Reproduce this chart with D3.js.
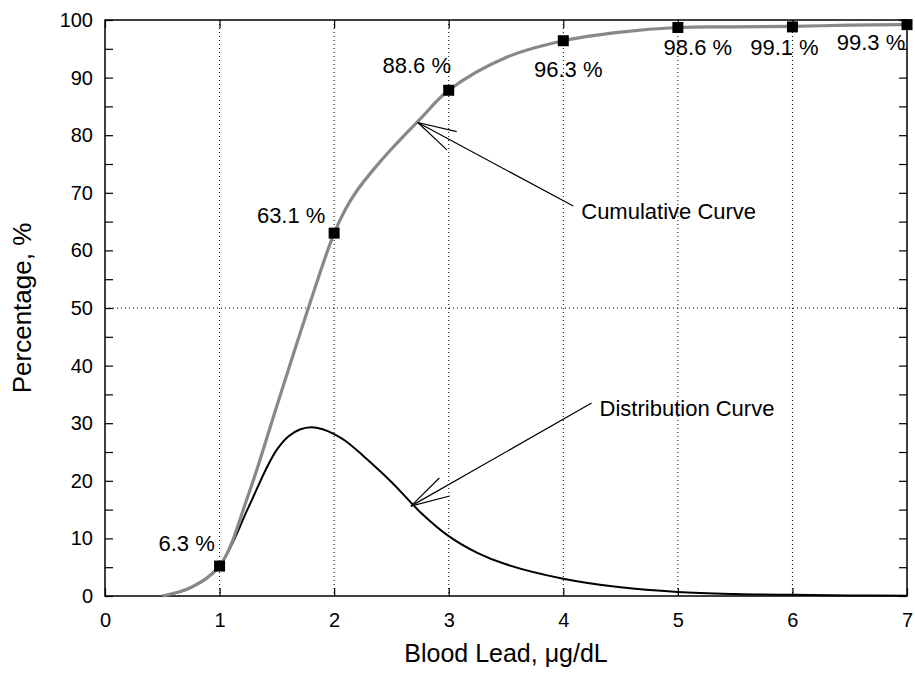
<!DOCTYPE html>
<html>
<head>
<meta charset="utf-8">
<script src="https://cdn.jsdelivr.net/npm/d3@7"></script>
<style>
  body { margin: 0; background: #fff; }
  svg text { font-family: "Liberation Sans", Arial, sans-serif; fill: #000; }
</style>
</head>
<body>
<svg id="drawing_region"></svg>
<script>
// cumulative curve
const cumX = [0.5, 0.75, 1, 1.25, 1.5, 1.75, 2, 2.1, 2.2, 2.35, 2.5, 2.75, 3, 3.5, 4, 4.5, 5, 5.5, 6, 6.5, 7];
const cumY = [0, 1.5, 5.2, 17.5, 33, 48.5, 63, 67.2, 70.4, 74.2, 77.6, 82.8, 87.8, 93.5, 96.4, 97.9, 98.7, 98.8, 98.9, 99.1, 99.2];
// distribution curve
const distX = [0.5, 0.75, 1, 1.25, 1.4, 1.5, 1.6, 1.7, 1.8, 1.9, 2, 2.1, 2.25, 2.5, 2.75, 3, 3.25, 3.5, 4, 4.5, 5, 5.5, 6, 6.5, 7];
const distY = [0, 1.4, 5.3, 15.3, 21.8, 25.4, 27.7, 28.9, 29.3, 28.95, 28.1, 26.9, 24.4, 19.8, 14.6, 10.4, 7.5, 5.5, 3, 1.5, 0.7, 0.35, 0.2, 0.1, 0.05];
// square markers on the cumulative curve
const markerX = [1, 2, 3, 4, 5, 6, 7];
const markerY = [5.2, 63, 87.8, 96.4, 98.7, 98.8, 99.2];
const markerText = ["6.3 %", "63.1 %", "88.6 %", "96.3 %", "98.6 %", "99.1 %", "99.3 %"];
// tick values
const xTicks = [0, 1, 2, 3, 4, 5, 6, 7];
const yTicks = [0, 5, 10, 15, 20, 25, 30, 35, 40, 45, 50, 55, 60, 65, 70, 75, 80, 85, 90, 95, 100];

const config = {
    width: 915,
    height: 673,
    margin: {top: 20, right: 8, bottom: 77, left: 105}
};

const svg = d3.select('#drawing_region')
    .attr('width', config.width)
    .attr('height', config.height);

const inner_width = config.width - config.margin.left - config.margin.right;
const inner_height = config.height - config.margin.top - config.margin.bottom;

const chart = svg.append('g')
    .attr('transform', `translate(${config.margin.left}, ${config.margin.top})`);

const xscale = d3.scaleLinear().domain([0, 7]).range([0, inner_width]);
const yscale = d3.scaleLinear().domain([0, 100]).range([inner_height, 0]);

// grid (dotted)
chart.append('g').selectAll('line.vgrid')
    .data([1, 2, 3, 4, 5, 6])
    .join('line')
    .attr('x1', d => xscale(d)).attr('x2', d => xscale(d))
    .attr('y1', 0).attr('y2', inner_height)
    .attr('stroke', '#000').attr('stroke-width', 1)
    .attr('stroke-dasharray', '1,3');
chart.append('line')
    .attr('x1', 0).attr('x2', inner_width)
    .attr('y1', yscale(50)).attr('y2', yscale(50))
    .attr('stroke', '#000').attr('stroke-width', 1)
    .attr('stroke-dasharray', '1,3');

// axes, ticks pointing inward
const tickLen = 8;
const styleAxis = g => {
    g.select('.domain').remove();
    g.selectAll('.tick line').attr('stroke', '#000').attr('stroke-width', 1.2);
    g.selectAll('.tick text').attr('font-size', 20).attr('fill', '#000')
        .style('font-family', '"Liberation Sans", Arial, sans-serif');
};

chart.append('g')
    .attr('transform', `translate(0, ${inner_height})`)
    .call(d3.axisBottom(xscale).tickValues(xTicks).tickSize(-tickLen).tickPadding(17)
        .tickFormat(d3.format('d')))
    .call(styleAxis);
chart.append('g')
    .call(d3.axisTop(xscale).tickValues(xTicks).tickSize(-tickLen).tickFormat(''))
    .call(styleAxis);
chart.append('g')
    .call(d3.axisLeft(yscale).tickValues(yTicks).tickSize(-tickLen).tickPadding(12)
        .tickFormat(d => d % 10 === 0 ? d : ''))
    .call(styleAxis);
chart.append('g')
    .attr('transform', `translate(${inner_width}, 0)`)
    .call(d3.axisRight(yscale).tickValues(yTicks).tickSize(-tickLen).tickFormat(''))
    .call(styleAxis);

// border
chart.append('rect')
    .attr('x', 0).attr('y', 0)
    .attr('width', inner_width).attr('height', inner_height)
    .attr('fill', 'none').attr('stroke', '#000').attr('stroke-width', 1.5);

// curves
const line = d3.line()
    .x(d => xscale(d[0]))
    .y(d => yscale(d[1]))
    .curve(d3.curveCatmullRom.alpha(0.5));

chart.append('path')
    .datum(distX.map((x, i) => [x, distY[i]]))
    .attr('d', line)
    .attr('fill', 'none').attr('stroke', '#000').attr('stroke-width', 2);

chart.append('path')
    .datum(cumX.map((x, i) => [x, cumY[i]]))
    .attr('d', line)
    .attr('fill', 'none').attr('stroke', '#888').attr('stroke-width', 3.2);

// markers
const msize = 11;
chart.selectAll('rect.marker')
    .data(markerX.map((x, i) => [x, markerY[i]]))
    .join('rect')
    .attr('class', 'marker')
    .attr('x', d => xscale(d[0]) - msize / 2)
    .attr('y', d => yscale(d[1]) - msize / 2)
    .attr('width', msize).attr('height', msize)
    .attr('fill', '#000');

// value labels: offset (px) from each marker to text centre / baseline
const labelOffset = [[-33, -15], [-43, -10], [-32, -17], [5, 36], [20, 28], [-8, 28], [-36, 25]];
chart.selectAll('text.vlabel')
    .data(markerText)
    .join('text')
    .attr('class', 'vlabel')
    .attr('x', (d, i) => xscale(markerX[i]) + labelOffset[i][0])
    .attr('y', (d, i) => yscale(markerY[i]) + labelOffset[i][1])
    .attr('text-anchor', 'middle')
    .attr('font-size', 22)
    .text(d => d);

// arrows with open heads
function arrow(from, to) {
    const x1 = xscale(from[0]), y1 = yscale(from[1]);
    const x2 = xscale(to[0]), y2 = yscale(to[1]);
    const ang = Math.atan2(y1 - y2, x1 - x2);
    const len = 40, spread = 15 * Math.PI / 180;
    const g = chart.append('g').attr('stroke', '#000').attr('stroke-width', 1.2);
    g.append('line').attr('x1', x1).attr('y1', y1).attr('x2', x2).attr('y2', y2);
    [-spread, spread].forEach(s => {
        g.append('line')
            .attr('x1', x2).attr('y1', y2)
            .attr('x2', x2 + len * Math.cos(ang + s))
            .attr('y2', y2 + len * Math.sin(ang + s));
    });
}
arrow([4.087, 67.7], [2.73, 82.2]);
arrow([4.247, 33.5], [2.67, 15.6]);

chart.append('text')
    .attr('x', xscale(4.087) + 8).attr('y', yscale(67.7) + 13)
    .attr('font-size', 22)
    .text('Cumulative Curve');
chart.append('text')
    .attr('x', xscale(4.247) + 8).attr('y', yscale(33.5) + 13)
    .attr('font-size', 22)
    .text('Distribution Curve');

// axis titles
svg.append('text')
    .attr('x', config.margin.left + inner_width / 2)
    .attr('y', 662)
    .attr('text-anchor', 'middle')
    .attr('font-size', 25)
    .text('Blood Lead, μg/dL');
svg.append('text')
    .attr('transform', `translate(31, ${config.margin.top + inner_height / 2}) rotate(-90)`)
    .attr('text-anchor', 'middle')
    .attr('font-size', 26)
    .text('Percentage, %');
</script>
</body>
</html>
